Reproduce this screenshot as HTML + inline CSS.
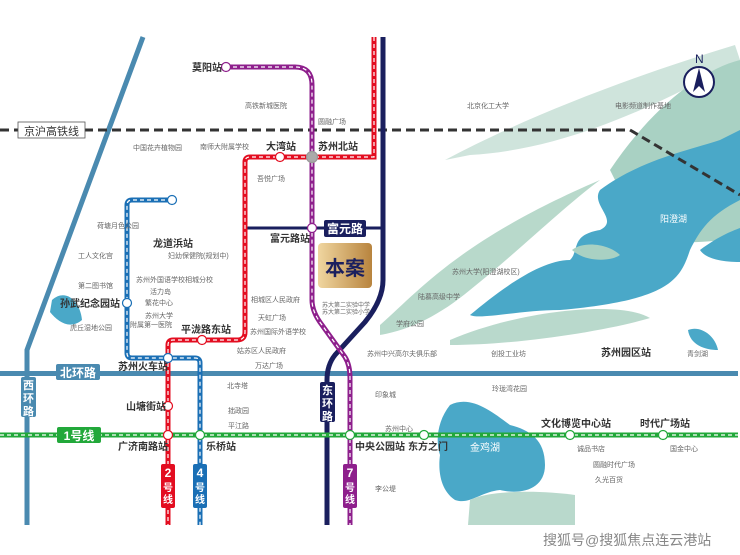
<!DOCTYPE html>
<html><head><meta charset="utf-8"><style>
html,body{margin:0;padding:0;background:#fff}
svg{display:block}
text{font-family:"Liberation Sans","Noto Sans CJK SC",sans-serif}
.p{font-size:7px;fill:#666}
.s{font-size:10px;fill:#333;font-weight:bold}
.w{fill:#fff;font-weight:bold}
</style></head><body>
<svg width="740" height="555" viewBox="0 0 740 555" xmlns="http://www.w3.org/2000/svg">
<rect width="740" height="555" fill="#fff"/>
<!-- water & greens -->
<path d="M445,160 C520,120 620,80 735,45 L740,60 C650,110 560,150 470,155 Z" fill="#cfe4dc"/>
<path d="M610,170 C650,110 700,70 740,60 L740,240 C700,240 660,250 640,230 Z" fill="#a9d1c3"/>
<path d="M600,190 C640,160 690,150 720,140 L740,130 L740,200 C710,215 700,230 690,250 C680,280 670,300 560,310 C520,310 480,320 470,315 C500,290 540,260 570,260 C580,250 570,235 600,230 C620,220 590,205 600,190 Z" fill="#4aa8c8"/>
<path d="M700,250 C720,235 735,230 740,228 L740,262 C720,262 705,258 700,250 Z" fill="#4aa8c8"/>
<path d="M380,325 C420,290 460,240 600,180 C560,210 520,250 470,290 C440,315 410,330 380,335 Z" fill="#b8d9cb"/>
<path d="M450,340 C520,310 620,300 650,318 C610,330 520,345 450,345 Z" fill="#b9d9cc"/>
<path d="M572,250 C585,240 610,245 620,255 C610,262 585,262 572,250 Z" fill="#a9d1c3"/>
<path d="M688,330 C700,325 715,335 718,350 C705,350 690,345 688,330 Z" fill="#4aa8c8"/>
<path d="M450,405 C470,395 490,410 510,425 C530,430 545,440 545,465 C545,490 520,495 500,490 C480,492 470,505 455,500 C440,490 438,470 440,455 C435,440 438,420 450,405 Z" fill="#4aa8c8"/>
<path d="M470,500 C490,490 540,490 575,495 L575,525 L468,525 Z" fill="#b9d9cc"/>
<path d="M52,300 C65,288 80,300 82,320 C70,330 58,322 50,312 Z" fill="#4aa8c8"/>
<!-- roads -->
<path d="M143,37 L27,350 L27,525" fill="none" stroke="#4a8ab0" stroke-width="5"/>
<rect x="0" y="371" width="738" height="5" fill="#4a8ab0"/>
<rect x="56" y="364" width="44" height="16" rx="2" fill="#4a8ab0"/><text x="78" y="377" text-anchor="middle" class="w" font-size="12">北环路</text>
<rect x="21" y="377" width="15" height="40" rx="2" fill="#4a8ab0"/>
<text x="28.5" y="389" text-anchor="middle" class="w" font-size="11">西</text><text x="28.5" y="402" text-anchor="middle" class="w" font-size="11">环</text><text x="28.5" y="415" text-anchor="middle" class="w" font-size="11">路</text>
<!-- HSR -->
<path d="M0,130 L630,130 L740,195" fill="none" stroke="#333" stroke-width="3" stroke-dasharray="9,5"/>
<rect x="18" y="122" width="67" height="16" fill="#fff" stroke="#555" stroke-width="0.8"/>
<text x="51.5" y="135" text-anchor="middle" font-size="11" fill="#333">京沪高铁线</text>
<!-- navy line -->
<path d="M383,37 L383,280 Q383,300 365,322 L335,355 Q327,365 327,380 L327,525" fill="none" stroke="#1a1f5e" stroke-width="5"/>
<path d="M245,228 L383,228" stroke="#1a1f5e" stroke-width="3"/>
<rect x="324" y="220" width="42" height="17" rx="2" fill="#1a1f5e"/><text x="345" y="233" text-anchor="middle" class="w" font-size="12">富元路</text>
<rect x="320" y="382" width="15" height="40" rx="2" fill="#1a1f5e"/>
<text x="327.5" y="394" text-anchor="middle" class="w" font-size="11">东</text><text x="327.5" y="407" text-anchor="middle" class="w" font-size="11">环</text><text x="327.5" y="420" text-anchor="middle" class="w" font-size="11">路</text>
<g fill="none">
<path d="M374,37 L374,157 L250,157 Q245,157 245,162 L245,332 Q245,340 237,340 L173,340 Q168,340 168,345 L168,525" stroke="#e30d20" stroke-width="5"/>
<path d="M374,37 L374,157 L250,157 Q245,157 245,162 L245,332 Q245,340 237,340 L173,340 Q168,340 168,345 L168,525" stroke="#fff" stroke-width="1.2" stroke-dasharray="4,3"/>
<path d="M172,200 L132,200 Q127,200 127,205 L127,353 Q127,358 132,358 L195,358 Q200,358 200,363 L200,525" stroke="#1a6fb5" stroke-width="5"/>
<path d="M172,200 L132,200 Q127,200 127,205 L127,353 Q127,358 132,358 L195,358 Q200,358 200,363 L200,525" stroke="#fff" stroke-width="1.2" stroke-dasharray="4,3"/>
<path d="M226,67 L295,67 Q312,67 312,85 L312,300 Q312,312 322,325 L345,357 Q350,365 350,378 L350,525" stroke="#8e1f8c" stroke-width="5"/>
<path d="M226,67 L295,67 Q312,67 312,85 L312,300 Q312,312 322,325 L345,357 Q350,365 350,378 L350,525" stroke="#fff" stroke-width="1.2" stroke-dasharray="4,3"/>
<path d="M0,435 L738,435" stroke="#22a83a" stroke-width="5"/>
<path d="M0,435 L738,435" stroke="#fff" stroke-width="1.2" stroke-dasharray="4,3"/></g>
<rect x="57" y="427" width="44" height="16" rx="2" fill="#22a83a"/><text x="79" y="440" text-anchor="middle" class="w" font-size="12">1号线</text>
<rect x="161" y="464" width="14" height="44" rx="2" fill="#e30d20"/><text x="168" y="477" text-anchor="middle" class="w" font-size="12">2</text><text x="168" y="491" text-anchor="middle" class="w" font-size="10">号</text><text x="168" y="503" text-anchor="middle" class="w" font-size="10">线</text>
<rect x="193" y="464" width="14" height="44" rx="2" fill="#1a6fb5"/><text x="200" y="477" text-anchor="middle" class="w" font-size="12">4</text><text x="200" y="491" text-anchor="middle" class="w" font-size="10">号</text><text x="200" y="503" text-anchor="middle" class="w" font-size="10">线</text>
<rect x="343" y="464" width="14" height="44" rx="2" fill="#8e1f8c"/><text x="350" y="477" text-anchor="middle" class="w" font-size="12">7</text><text x="350" y="491" text-anchor="middle" class="w" font-size="10">号</text><text x="350" y="503" text-anchor="middle" class="w" font-size="10">线</text>
<g stroke-width="1.2" fill="#fff">
<circle cx="226" cy="67" r="4.5" stroke="#8e1f8c"/><circle cx="280" cy="157" r="4.5" stroke="#e30d20"/>
<circle cx="312" cy="157" r="5.5" stroke="#999" fill="#aaa"/><circle cx="312" cy="228" r="4.5" stroke="#8e1f8c"/>
<circle cx="172" cy="200" r="4.5" stroke="#1a6fb5"/><circle cx="127" cy="303" r="4.5" stroke="#1a6fb5"/>
<circle cx="202" cy="340" r="4.5" stroke="#e30d20"/><circle cx="168" cy="358" r="4.5" stroke="#1a6fb5"/>
<circle cx="168" cy="406" r="4.5" stroke="#e30d20"/><circle cx="168" cy="435" r="4.5" stroke="#e30d20"/>
<circle cx="200" cy="435" r="4.5" stroke="#22a83a"/><circle cx="350" cy="435" r="4.5" stroke="#22a83a"/>
<circle cx="424" cy="435" r="4.5" stroke="#22a83a"/><circle cx="570" cy="435" r="4.5" stroke="#22a83a"/><circle cx="663" cy="435" r="4.5" stroke="#22a83a"/>
</g>
<g class="s">
<text x="192" y="71">莫阳站</text><text x="266" y="150">大湾站</text><text x="318" y="150">苏州北站</text>
<text x="270" y="242">富元路站</text><text x="153" y="247">龙道浜站</text><text x="60" y="307">孙武纪念园站</text>
<text x="181" y="333">平泷路东站</text><text x="118" y="370">苏州火车站</text><text x="126" y="410">山塘街站</text>
<text x="118" y="450">广济南路站</text><text x="206" y="450">乐桥站</text><text x="355" y="450">中央公园站</text>
<text x="408" y="450">东方之门</text><text x="541" y="427">文化博览中心站</text><text x="640" y="427">时代广场站</text>
<text x="601" y="356">苏州园区站</text>
</g>
<text x="470" y="451" font-size="10" fill="#fff">金鸡湖</text><text x="660" y="222" font-size="9" fill="#fff">阳澄湖</text>
<defs><linearGradient id="g" x1="0" x2="1"><stop offset="0" stop-color="#f0d6a0"/><stop offset="1" stop-color="#b8843e"/></linearGradient></defs>
<rect x="318" y="243" width="54" height="45" rx="4" fill="url(#g)"/>
<text x="345" y="275" text-anchor="middle" font-size="20" font-weight="bold" fill="#1a1f5e">本案</text>
<g class="p">
<text x="245" y="108">高铁新城医院</text><text x="318" y="124">圆融广场</text>
<text x="133" y="150">中国花卉植物园</text><text x="200" y="149">南师大附属学校</text>
<text x="257" y="181">吾悦广场</text><text x="97" y="228">荷塘月色公园</text>
<text x="78" y="258">工人文化宫</text><text x="168" y="258">妇幼保健院(规划中)</text>
<text x="136" y="282">苏州外国语学校相城分校</text><text x="150" y="294">活力岛</text>
<text x="78" y="288">第二图书馆</text><text x="145" y="305">繁花中心</text>
<text x="145" y="318">苏州大学</text><text x="130" y="327">附属第一医院</text>
<text x="70" y="330">虎丘湿地公园</text><text x="251" y="302">相城区人民政府</text>
<text x="258" y="320">天虹广场</text><text x="250" y="334">苏州国际外语学校</text>
<text x="237" y="353">姑苏区人民政府</text><text x="255" y="368">万达广场</text>
<text x="227" y="388">北寺塔</text><text x="228" y="413">拙政园</text><text x="228" y="428">平江路</text>
<text x="322" y="307" font-size="6">苏大第二实验中学</text><text x="322" y="314" font-size="6">苏大第二实验小学</text>
<text x="467" y="108">北京化工大学</text><text x="615" y="108">电影频道制作基地</text>
<text x="452" y="274">苏州大学(阳澄湖校区)</text><text x="418" y="299">陆慕高级中学</text>
<text x="396" y="326">学府公园</text><text x="367" y="356">苏州中兴高尔夫俱乐部</text>
<text x="491" y="356">创投工业坊</text><text x="687" y="356">青剑湖</text>
<text x="375" y="397">印象城</text><text x="492" y="391">玲珑湾花园</text><text x="385" y="431">苏州中心</text>
<text x="577" y="451">诚品书店</text><text x="593" y="467">圆融时代广场</text><text x="595" y="482">久光百货</text>
<text x="670" y="451">国金中心</text><text x="375" y="491">李公堤</text>
</g>
<text x="695" y="63" font-size="12" fill="#1a1f5e">N</text>
<circle cx="699" cy="82" r="15" fill="#fff" stroke="#1a1f5e" stroke-width="2"/>
<path d="M699,68 L693,92 L699,86 L705,92 Z" fill="#1a1f5e"/>
<text x="543" y="545" font-size="14" fill="#888">搜狐号@搜狐焦点连云港站</text>
</svg>
</body></html>
